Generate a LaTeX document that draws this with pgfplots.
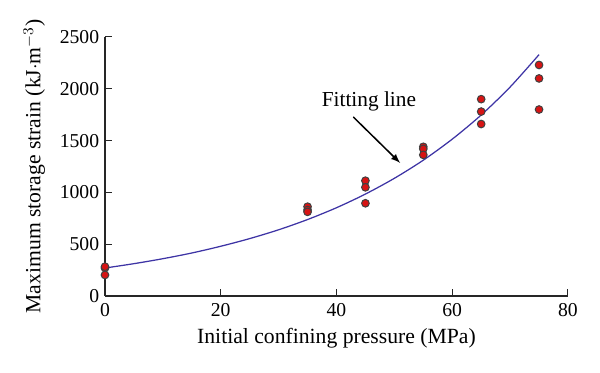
\documentclass[border=0pt]{standalone}
\usepackage{pgfplots}
\pgfplotsset{compat=1.18}
\usepackage{fontspec}
\setmainfont{Liberation Serif}
\definecolor{fitblue}{RGB}{62,52,165}
\definecolor{ptred}{RGB}{215,20,20}
\begin{document}
\begin{tikzpicture}[x=1pt,y=1pt]
\begin{axis}[
  scale only axis,
  width=277.8pt, height=155.4pt,
  xmin=0, xmax=80, ymin=0, ymax=2500,
  axis x line*=bottom, axis y line*=left,
  axis line style={line width=0.7pt, black!85},
  xtick={0,20,40,60,80}, ytick={0,500,1000,1500,2000,2500},
  tick align=inside, major tick length=4pt,
  tick style={line width=0.6pt, black!85},
  /pgf/number format/assume math mode=true,
  /pgf/number format/1000 sep={},
  tick label style={font=\fontsize{11.8}{13}\selectfont},
  label style={font=\fontsize{13}{15}\selectfont},
  xlabel={Initial confining pressure (MPa)},
  ylabel={Maximum storage strain (kJ$\cdot$m$^{-3}$)},
  xlabel style={yshift=0pt},
  ylabel style={yshift=2pt},
  xticklabel style={yshift=-1pt},
  clip=false,
]
\addplot[fitblue, line width=0.75pt, smooth] coordinates {
(0,270) (5,312) (10,360) (15,415) (20,480) (25,554) (30,639) (35,738)
(40,852) (45,984) (50,1136) (55,1311) (60,1514) (65,1747) (70,2017) (75,2330)
};
\addplot[only marks, mark=*, mark size=2.3pt,
  mark options={fill=ptred, draw=black!75, line width=0.6pt}] coordinates {
(0,270) (0,283) (0,203)
(35,862) (35,830) (35,812)
(45,1113) (45,1049) (45,895)
(55,1440) (55,1420) (55,1362)
(65,1900) (65,1780) (65,1660)
(75,2230) (75,2100) (75,1800)
};
\node[font=\fontsize{12.8}{14}\selectfont] at (axis cs:45.6,1880) {Fitting line};
\draw[-latex, line width=0.9pt] (axis cs:42.9,1728) -- (axis cs:51.0,1284);
\end{axis}
\path (current axis.south west) ++(-63pt,-46.2pt) rectangle ++(360pt,223.8pt);
\end{tikzpicture}
\end{document}
